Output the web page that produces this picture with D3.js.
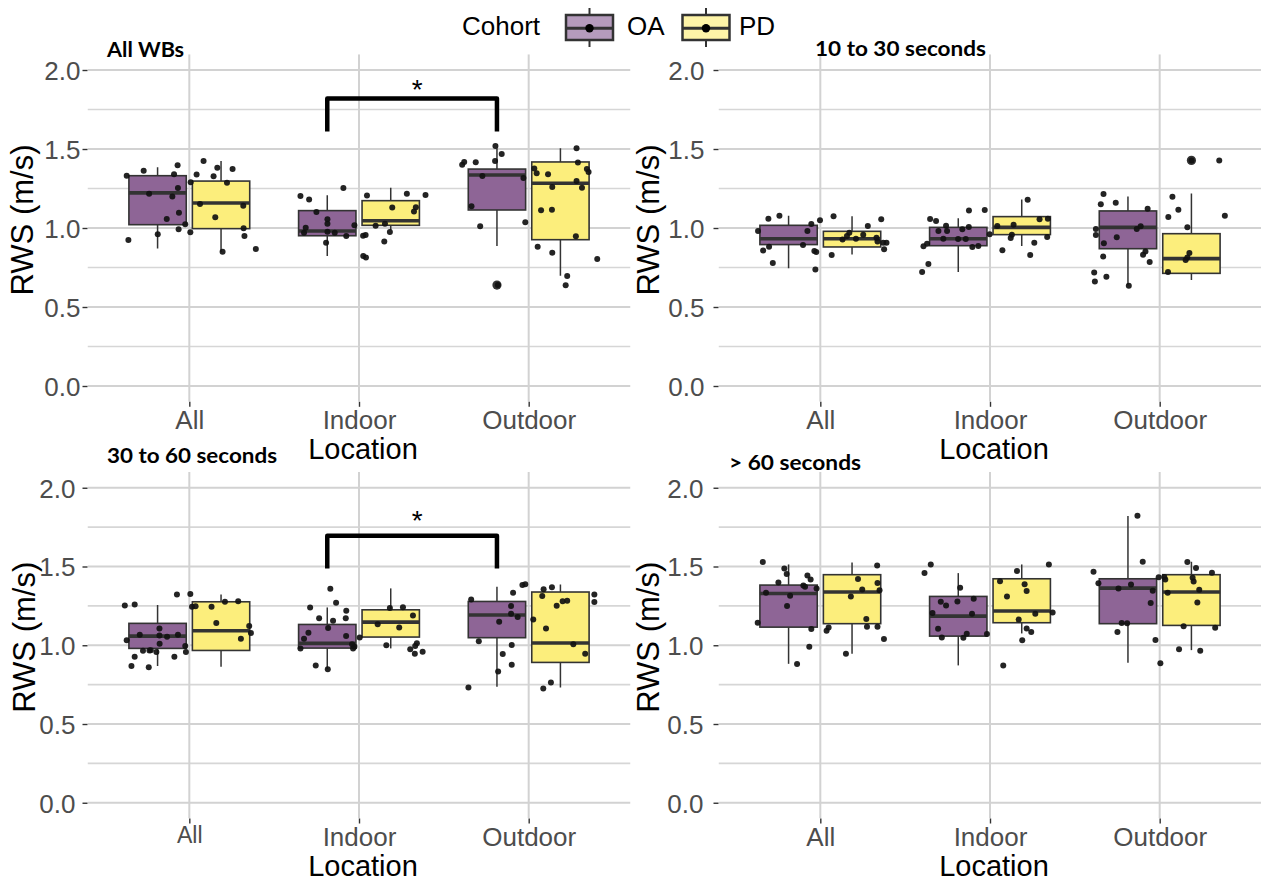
<!DOCTYPE html>
<html lang="en">
<head>
<meta charset="utf-8">
<title>RWS by location and cohort</title>
<script src="https://d3js.org/d3.v7.min.js"></script>
<style type="text/css">
  body { margin: 0; background: #ffffff; }
  svg text { font-family: "Liberation Sans", Arial, sans-serif; }
  .ptitle { font-family: Lato, "Open Sans", sans-serif !important; font-weight: 700; }
</style>
</head>
<body>
<div id="graph"></div>
<script type="text/javascript">

// ---- data ----
var locations = ["All", "Indoor", "Outdoor"];
var cohorts = ["OA", "PD"];
var cohortColors = ["#8e6596", "#fcee7c"];
var legendColors = ["#b59bbc", "#fef4a8"];
var yTicks = [0, 0.5, 1, 1.5, 2];
var panelTitles = ["All WBs", "10 to 30 seconds", "30 to 60 seconds", "> 60 seconds"];

// box stats: location, cohort, lower whisker, q1, median, q3, upper whisker, outliers
var boxesAllWBs = [
  ["All", "OA", 0.871, 1.021, 1.222, 1.331, 1.384, []],
  ["All", "PD", 0.848, 0.996, 1.158, 1.297, 1.424, []],
  ["Indoor", "OA", 0.823, 0.951, 0.981, 1.110, 1.207, []],
  ["Indoor", "PD", 0.987, 1.017, 1.046, 1.173, 1.255, []],
  ["Outdoor", "OA", 0.886, 1.114, 1.335, 1.373, 1.504, [0.639]],
  ["Outdoor", "PD", 0.698, 0.926, 1.283, 1.418, 1.504, []]
];
var boxes10to30 = [
  ["All", "OA", 0.745, 0.895, 0.932, 1.017, 1.078, []],
  ["All", "PD", 0.833, 0.880, 0.932, 0.979, 1.074, []],
  ["Indoor", "OA", 0.722, 0.888, 0.932, 1.004, 1.061, []],
  ["Indoor", "PD", 0.886, 0.958, 1.004, 1.072, 1.181, []],
  ["Outdoor", "OA", 0.637, 0.869, 1.004, 1.108, 1.200, []],
  ["Outdoor", "PD", 0.671, 0.713, 0.806, 0.964, 1.219, [1.428]]
];
var boxes30to60 = [
  ["All", "OA", 0.868, 0.980, 1.058, 1.139, 1.255, []],
  ["All", "PD", 0.864, 0.967, 1.092, 1.276, 1.323, []],
  ["Indoor", "OA", 0.848, 0.982, 1.012, 1.132, 1.240, []],
  ["Indoor", "PD", 0.980, 1.052, 1.147, 1.225, 1.361, []],
  ["Outdoor", "OA", 0.737, 1.048, 1.192, 1.278, 1.371, []],
  ["Outdoor", "PD", 0.732, 0.891, 1.014, 1.338, 1.386, []]
];
var boxesOver60 = [
  ["All", "OA", 0.882, 1.115, 1.329, 1.382, 1.513, []],
  ["All", "PD", 0.946, 1.137, 1.338, 1.448, 1.526, []],
  ["Indoor", "OA", 0.872, 1.058, 1.185, 1.310, 1.458, []],
  ["Indoor", "PD", 1.075, 1.143, 1.217, 1.422, 1.513, []],
  ["Outdoor", "OA", 0.889, 1.137, 1.363, 1.422, 1.820, []],
  ["Outdoor", "PD", 0.969, 1.126, 1.338, 1.448, 1.530, []]
];

// jittered walking bouts: location, cohort, [value, jitter (in category units)]
var pointsAllWBs = [
  ["All", "OA", [[1.331,-0.369],[1.363,-0.269],[1.397,-0.069],[1.340,-0.090],[1.253,-0.067],[1.217,-0.237],[1.200,-0.100],[1.097,-0.061],[1.057,-0.133],[0.992,-0.063],[1.023,-0.024],[0.960,-0.186],[0.924,-0.359],[1.289,0.008],[0.973,0.006]]],
  ["All", "PD", [[1.424,0.084],[1.338,0.043],[1.327,0.143],[1.382,0.165],[1.373,0.255],[1.287,0.222],[1.152,0.063],[1.141,0.318],[1.068,0.153],[0.998,0.320],[0.949,0.325],[0.850,0.196],[0.867,0.392]]],
  ["Indoor", "OA", [[1.203,-0.345],[1.181,-0.294],[1.253,-0.092],[1.101,-0.251],[1.055,-0.186],[1.027,-0.186],[1.002,-0.314],[0.970,-0.324],[0.977,-0.186],[0.970,-0.143],[0.949,-0.075],[1.017,-0.027],[0.907,-0.194]]],
  ["Indoor", "PD", [[1.205,0.047],[1.217,0.282],[1.209,0.392],[1.129,0.196],[1.105,0.324],[1.131,0.335],[1.015,0.098],[1.027,0.153],[0.975,0.182],[0.914,0.149],[0.951,0.024],[0.956,0.039],[0.823,0.025],[0.814,0.041]]],
  ["Outdoor", "OA", [[1.401,-0.392],[1.418,-0.380],[1.416,-0.312],[1.519,-0.196],[1.468,-0.159],[1.424,-0.198],[1.329,-0.273],[1.316,-0.031],[1.137,-0.337],[1.011,-0.286],[1.036,-0.020],[0.639,-0.182]]],
  ["Outdoor", "PD", [[1.504,0.282],[1.414,0.290],[1.376,0.033],[1.346,0.047],[1.340,0.114],[1.373,0.343],[1.354,0.353],[1.297,0.282],[1.259,0.139],[1.255,0.314],[1.112,0.073],[1.116,0.137],[0.947,0.278],[0.882,0.053],[0.844,0.139],[0.804,0.404],[0.696,0.227],[0.637,0.218]]]
];
var points10to30 = [
  ["All", "OA", [[1.059,-0.306],[1.078,-0.241],[0.981,-0.367],[0.882,-0.302],[0.857,-0.337],[0.778,-0.280],[0.981,-0.076],[0.892,-0.102],[1.025,-0.053],[0.854,-0.035],[0.848,-0.024],[0.738,-0.029],[1.049,-0.002]]],
  ["All", "PD", [[1.074,0.078],[1.055,0.359],[1.013,0.280],[0.970,0.171],[0.949,0.157],[0.928,0.131],[0.932,0.210],[0.958,0.253],[0.939,0.331],[0.914,0.337],[0.907,0.371],[0.907,0.390],[0.865,0.376],[0.829,0.067]]],
  ["Indoor", "OA", [[1.057,-0.353],[1.044,-0.318],[1.015,-0.259],[0.981,-0.304],[0.981,-0.253],[0.992,-0.163],[1.006,-0.125],[1.110,-0.124],[1.114,-0.031],[0.932,-0.275],[0.930,-0.188],[0.930,-0.143],[0.880,-0.104],[0.886,-0.069],[0.884,-0.392],[0.901,-0.371],[0.772,-0.363],[0.722,-0.400]]],
  ["Indoor", "PD", [[1.179,0.222],[1.055,0.292],[1.059,0.341],[1.013,0.043],[1.021,0.139],[0.958,0.129],[0.937,0.122],[0.943,0.337],[0.907,0.261],[0.859,0.073],[0.829,0.237],[0.960,-0.002]]],
  ["Outdoor", "OA", [[1.215,-0.331],[1.150,-0.347],[1.160,-0.259],[1.122,-0.071],[0.994,-0.376],[0.956,-0.376],[0.941,-0.253],[0.903,-0.329],[0.994,-0.135],[1.011,-0.112],[0.852,-0.084],[0.831,-0.098],[0.785,-0.059],[0.819,-0.333],[0.719,-0.386],[0.692,-0.314],[0.662,-0.382],[0.635,-0.182]]],
  ["Outdoor", "PD", [[1.428,0.188],[1.428,0.351],[1.198,0.075],[1.116,0.110],[1.070,0.051],[1.078,0.384],[1.004,0.163],[0.842,0.175],[0.814,0.163],[0.797,0.153],[0.722,0.049]]]
];
var points30to60 = [
  ["All", "OA", [[1.253,-0.380],[1.259,-0.322],[1.323,-0.073],[1.107,-0.176],[1.067,-0.292],[1.062,-0.176],[1.054,-0.131],[1.067,-0.067],[1.031,-0.369],[1.009,-0.175],[0.965,-0.273],[0.969,-0.227],[0.967,-0.235],[0.957,-0.194],[0.995,-0.024],[0.957,-0.020],[0.927,-0.322],[0.927,-0.088],[0.868,-0.341],[0.860,-0.239]]],
  ["All", "PD", [[1.325,0.006],[1.245,0.016],[1.247,0.037],[1.245,0.131],[1.276,0.210],[1.280,0.288],[1.141,0.159],[1.122,0.353],[1.078,0.363],[1.041,0.304]]],
  ["Indoor", "OA", [[1.359,-0.169],[1.270,-0.135],[1.240,-0.288],[1.219,-0.075],[1.172,-0.235],[1.155,-0.153],[1.172,-0.078],[1.109,-0.182],[1.079,-0.298],[1.041,-0.324],[1.058,-0.076],[0.980,-0.345],[1.007,-0.041],[0.990,-0.027],[0.980,-0.035],[0.872,-0.255],[0.848,-0.184],[1.050,0.004]]],
  ["Indoor", "PD", [[1.236,0.182],[1.242,0.259],[1.189,0.318],[1.134,0.110],[1.113,0.237],[1.000,0.161],[1.012,0.341],[0.995,0.331],[0.974,0.302],[0.946,0.329],[0.958,0.375]]],
  ["Outdoor", "OA", [[1.291,-0.339],[1.249,-0.104],[1.333,-0.092],[1.200,-0.104],[1.179,-0.065],[1.149,-0.174],[1.026,-0.294],[1.001,-0.100],[0.944,-0.153],[0.876,-0.100],[0.834,-0.180],[0.732,-0.355],[1.382,-0.037],[1.388,-0.020]]],
  ["Outdoor", "PD", [[1.355,0.088],[1.368,0.137],[1.312,0.080],[1.251,0.165],[1.280,0.200],[1.282,0.227],[1.164,0.027],[1.107,0.102],[1.323,0.387],[1.274,0.387],[1.007,0.263],[0.946,0.333],[0.764,0.131],[0.726,0.086]]]
];
var pointsOver60 = [
  ["All", "OA", [[1.528,-0.339],[1.487,-0.212],[1.453,-0.198],[1.399,-0.247],[1.443,-0.076],[1.418,-0.057],[1.380,-0.100],[1.372,-0.090],[1.361,-0.022],[1.333,-0.320],[1.314,-0.178],[1.249,-0.196],[1.143,-0.369],[1.103,-0.053],[0.990,-0.065],[0.881,-0.137]]],
  ["All", "PD", [[1.507,0.335],[1.420,0.222],[1.395,0.337],[1.354,0.247],[1.350,0.349],[1.310,0.180],[1.166,0.271],[1.117,0.275],[1.117,0.337],[1.113,0.049],[1.092,0.037],[1.039,0.375],[0.946,0.151]]],
  ["Indoor", "OA", [[1.513,-0.349],[1.458,-0.386],[1.365,-0.176],[1.276,-0.290],[1.253,-0.259],[1.278,-0.192],[1.295,-0.096],[1.204,-0.339],[1.200,-0.106],[1.105,-0.306],[1.050,-0.284],[1.073,-0.137],[1.048,-0.157],[1.071,-0.018]]],
  ["Indoor", "PD", [[1.513,0.347],[1.471,0.159],[1.407,0.059],[1.388,0.204],[1.344,0.216],[1.310,0.100],[1.200,0.267],[1.208,0.369],[1.164,0.169],[1.107,0.216],[1.084,0.243],[1.031,0.190],[0.872,0.078]]],
  ["Outdoor", "OA", [[1.822,-0.131],[1.530,-0.100],[1.467,-0.390],[1.393,-0.361],[1.386,-0.169],[1.361,-0.243],[1.346,-0.041],[1.268,-0.053],[1.141,-0.224],[1.139,-0.192],[1.084,-0.249],[1.033,-0.025],[0.885,0.004]]],
  ["Outdoor", "PD", [[1.431,-0.006],[1.433,0.027],[1.418,0.033],[1.528,0.163],[1.490,0.214],[1.460,0.308],[1.429,0.194],[1.405,0.200],[1.333,0.047],[1.352,0.233],[1.272,0.222],[1.120,0.141],[1.111,0.327],[0.974,0.114],[0.965,0.239]]]
];

// significance brackets: from location, to location (both OA), bar level, tip end, label level
var signifAllWBs = [["Indoor", "Outdoor", 1.82, 1.61, 1.918, "*"]];
var signif30to60 = [["Indoor", "Outdoor", 1.695, 1.488, 1.836, "*"]];

// ---- layout ----
var W = 1261, H = 880;
var dodge = 0.187, boxWidth = 0.338;

var panels = [
  {title: panelTitles[0], boxes: boxesAllWBs, points: pointsAllWBs, signif: signifAllWBs,
   left: 87.5, right: 630.5, top: 54.2, bottom: 401.8, tickGap: 7, yTitleX: 33,
   titleX: 107, titleY: 57, titleW: 77},
  {title: panelTitles[1], boxes: boxes10to30, points: points10to30, signif: [],
   left: 718.5, right: 1261.5, top: 54.2, bottom: 401.8, tickGap: 14, yTitleX: 659,
   titleX: 815, titleY: 56, titleW: 171},
  {title: panelTitles[2], boxes: boxes30to60, points: points30to60, signif: signif30to60,
   left: 87.5, right: 630.5, top: 472, bottom: 818.5, tickGap: 12, yTitleX: 35,
   titleX: 107, titleY: 463, titleW: 170, smallAll: true},
  {title: panelTitles[3], boxes: boxesOver60, points: pointsOver60, signif: [],
   left: 718.5, right: 1261.5, top: 472, bottom: 818.5, tickGap: 15, yTitleX: 659,
   titleX: 729, titleY: 470, titleW: 132}
];

var svg = d3.select("#graph")
  .append("svg")
  .attr("width", W)
  .attr("height", H);

var defs = svg.append("defs");

panels.forEach(function(p, pi) {

  var x = d3.scaleLinear().domain([0.4, 3.6]).range([p.left, p.right]);
  var y = d3.scaleLinear().domain([-0.1, 2.1]).range([p.bottom, p.top]);

  defs.append("clipPath").attr("id", "clip" + pi)
    .append("rect")
    .attr("x", p.left).attr("y", p.top)
    .attr("width", p.right - p.left).attr("height", p.bottom - p.top);

  var g = svg.append("g");
  var plot = g.append("g").attr("clip-path", "url(#clip" + pi + ")");

  // grid lines
  var minor = [0.25, 0.75, 1.25, 1.75];
  plot.selectAll(".minor").data(minor).enter().append("line")
    .attr("x1", p.left).attr("x2", p.right)
    .attr("y1", function(d) { return y(d); }).attr("y2", function(d) { return y(d); })
    .style("stroke", "#d6d6d6").style("stroke-width", 1.6);
  plot.selectAll(".major").data(yTicks).enter().append("line")
    .attr("x1", p.left).attr("x2", p.right)
    .attr("y1", function(d) { return y(d); }).attr("y2", function(d) { return y(d); })
    .style("stroke", "#d2d2d2").style("stroke-width", 2);
  plot.selectAll(".vgrid").data(locations).enter().append("line")
    .attr("x1", function(d, i) { return x(i + 1); }).attr("x2", function(d, i) { return x(i + 1); })
    .attr("y1", p.top).attr("y2", p.bottom)
    .style("stroke", "#d2d2d2").style("stroke-width", 2);

  // axes (ticks + labels)
  var yAxis = d3.axisLeft(y).tickValues(yTicks).tickSize(5).tickPadding(p.tickGap - 5)
    .tickFormat(d3.format(".1f"));
  var ya = g.append("g").attr("transform", "translate(" + p.left + ",0)").call(yAxis);
  ya.select(".domain").remove();
  ya.selectAll("line").style("stroke", "#333333").style("stroke-width", 1.4);
  ya.selectAll("text").style("font-size", "26px").style("fill", "#4d4d4d")
    .attr("dy", "0.36em").style("font-family", "'Liberation Sans', Arial, sans-serif");

  var xAxis = d3.axisBottom(x).tickValues([1, 2, 3]).tickSize(5).tickPadding(8)
    .tickFormat(function(d) { return locations[d - 1]; });
  var xa = g.append("g").attr("transform", "translate(0," + p.bottom + ")").call(xAxis);
  xa.select(".domain").remove();
  xa.selectAll("line").style("stroke", "#333333").style("stroke-width", 1.4);
  xa.selectAll("text").style("font-size", "26px").style("fill", "#4d4d4d")
    .attr("dy", null).attr("y", 27).style("font-family", "'Liberation Sans', Arial, sans-serif");
  if (p.smallAll) {
    xa.selectAll("text").filter(function(d) { return d === 1; })
      .style("font-size", "23px").attr("y", 24);
  }

  // axis titles
  g.append("text")
    .attr("x", (p.left + p.right) / 2 + 4).attr("y", p.bottom + 57)
    .attr("text-anchor", "middle")
    .style("font-size", "29px").style("fill", "#000")
    .text("Location");
  g.append("text")
    .attr("transform", "translate(" + p.yTitleX + "," + ((p.top + p.bottom) / 2 - 8) + ") rotate(-90)")
    .attr("text-anchor", "middle")
    .style("font-size", "31px").style("fill", "#000")
    .text("RWS (m/s)");

  // panel title
  g.append("text")
    .attr("class", "ptitle")
    .attr("x", p.titleX).attr("y", p.titleY)
    .attr("textLength", p.titleW).attr("lengthAdjust", "spacingAndGlyphs")
    .style("font-size", "21px").style("fill", "#000")
    .text(p.title);

  // boxes
  var boxData = p.boxes.map(function(b) {
    var li = locations.indexOf(b[0]), ci = cohorts.indexOf(b[1]);
    return {pos: li + 1 + (ci === 0 ? -dodge : dodge), ci: ci,
            lower: b[2], q1: b[3], median: b[4], q3: b[5], upper: b[6], outliers: b[7]};
  });
  var bw = x(boxWidth) - x(0);

  var bg = plot.selectAll(".box").data(boxData).enter().append("g");
  bg.append("line")
    .attr("x1", function(d) { return x(d.pos); }).attr("x2", function(d) { return x(d.pos); })
    .attr("y1", function(d) { return y(d.upper); }).attr("y2", function(d) { return y(d.q3); })
    .style("stroke", "#333333").style("stroke-width", 1.5);
  bg.append("line")
    .attr("x1", function(d) { return x(d.pos); }).attr("x2", function(d) { return x(d.pos); })
    .attr("y1", function(d) { return y(d.q1); }).attr("y2", function(d) { return y(d.lower); })
    .style("stroke", "#333333").style("stroke-width", 1.5);
  bg.append("rect")
    .attr("x", function(d) { return x(d.pos) - bw / 2; })
    .attr("width", bw)
    .attr("y", function(d) { return y(d.q3); })
    .attr("height", function(d) { return y(d.q1) - y(d.q3); })
    .style("fill", function(d) { return cohortColors[d.ci]; })
    .style("stroke", "#333333").style("stroke-width", 1.6);
  bg.append("line")
    .attr("x1", function(d) { return x(d.pos) - bw / 2; })
    .attr("x2", function(d) { return x(d.pos) + bw / 2; })
    .attr("y1", function(d) { return y(d.median); }).attr("y2", function(d) { return y(d.median); })
    .style("stroke", "#333333").style("stroke-width", 3.6);
  bg.selectAll(".out").data(function(d) { return d.outliers.map(function(o) { return [d.pos, o]; }); })
    .enter().append("circle")
    .attr("cx", function(d) { return x(d[0]); })
    .attr("cy", function(d) { return y(d[1]); })
    .attr("r", 4.6)
    .style("fill", "#333333");

  // jittered points
  var pts = [];
  p.points.forEach(function(set) {
    var li = locations.indexOf(set[0]);
    set[2].forEach(function(v) { pts.push({pos: li + 1 + v[1], value: v[0]}); });
  });
  plot.selectAll(".pt").data(pts).enter().append("circle")
    .attr("cx", function(d) { return x(d.pos); })
    .attr("cy", function(d) { return y(d.value); })
    .attr("r", 3)
    .style("fill", "#111111")
    .style("opacity", 0.92);

  // significance brackets
  p.signif.forEach(function(s) {
    var x1 = x(locations.indexOf(s[0]) + 1 - dodge);
    var x2 = x(locations.indexOf(s[1]) + 1 - dodge);
    var path = d3.path();
    path.moveTo(x1, y(s[3]));
    path.lineTo(x1, y(s[2]));
    path.lineTo(x2, y(s[2]));
    path.lineTo(x2, y(s[3]));
    g.append("path")
      .attr("d", path.toString())
      .style("fill", "none").style("stroke", "#000")
      .style("stroke-width", 4.5).style("stroke-linejoin", "round");
    g.append("text")
      .attr("x", (x1 + x2) / 2 + 5).attr("y", y(s[4]) + 16)
      .attr("text-anchor", "middle")
      .style("font-size", "28px").style("fill", "#000")
      .text(s[5]);
  });
});

// ---- legend ----
var legend = svg.append("g");
legend.append("text")
  .attr("x", 462).attr("y", 35)
  .style("font-size", "26px").style("fill", "#000")
  .text("Cohort");

var keyX = [566, 682.5];
var keyLabelX = [627, 739];
cohorts.forEach(function(c, i) {
  var k = legend.append("g").attr("transform", "translate(" + keyX[i] + ",0)");
  k.append("line").attr("x1", 23.5).attr("x2", 23.5).attr("y1", 8).attr("y2", 47)
    .style("stroke", "#333333").style("stroke-width", 2);
  k.append("rect").attr("x", 0).attr("y", 15).attr("width", 47).attr("height", 25)
    .style("fill", legendColors[i]).style("stroke", "#333333").style("stroke-width", 2.5);
  k.append("line").attr("x1", 0).attr("x2", 47).attr("y1", 28.3).attr("y2", 28.3)
    .style("stroke", "#333333").style("stroke-width", 3);
  k.append("circle").attr("cx", 23.5).attr("cy", 28.3).attr("r", 4.2).style("fill", "#000");
  legend.append("text")
    .attr("x", keyLabelX[i]).attr("y", 35)
    .style("font-size", "26px").style("fill", "#000")
    .text(c);
});

</script>
</body>
</html>
